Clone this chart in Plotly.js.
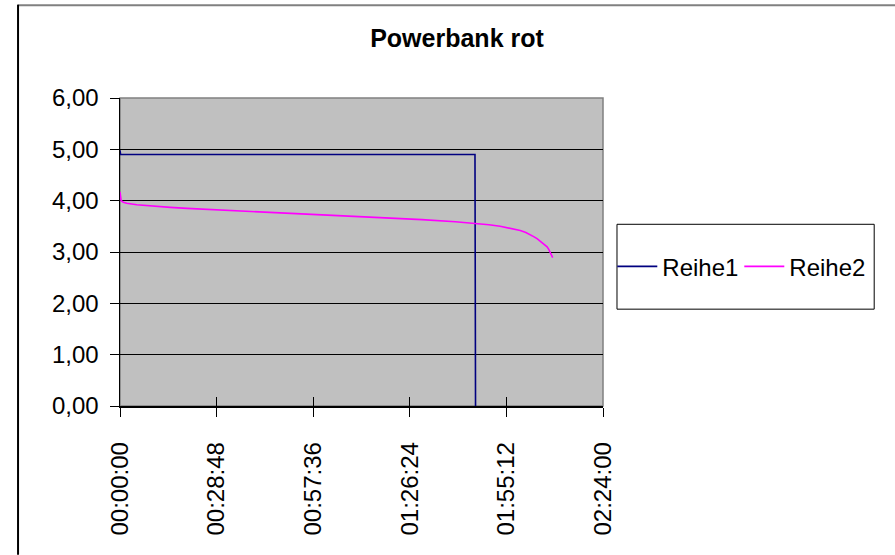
<!DOCTYPE html>
<html>
<head>
<meta charset="utf-8">
<script src="https://cdn.plot.ly/plotly-3.0.1.min.js"></script>
<style>html,body{margin:0;padding:0;background:#fff;}#chart{width:895px;height:555px;}</style>
</head>
<body>
<div id="chart"></div>
<script>
// Data (time as HH:MM:SS, voltage)
var seriesNames = ["Reihe1", "Reihe2"];
var reihe1Time = ["00:00:00", "00:00:10", "01:45:50", "01:46:00"];
var reihe1Value = [4.98, 4.90, 4.90, 0.00];
var reihe2Time = ["00:00:00", "00:00:20", "00:01:00", "00:02:00", "00:05:00", "00:10:00", "00:15:00", "00:20:00",
                  "00:30:00", "00:40:00", "00:50:00", "01:00:00", "01:10:00", "01:20:00", "01:30:00", "01:40:00",
                  "01:46:00", "01:50:00", "01:53:20", "01:56:40", "01:59:20", "02:01:00", "02:02:20", "02:03:20",
                  "02:04:20", "02:05:20", "02:06:20", "02:07:20", "02:07:50", "02:08:10", "02:08:40", "02:09:00"];
var reihe2Value = [4.17, 4.00, 3.97, 3.95, 3.92, 3.89, 3.87, 3.85,
                   3.82, 3.79, 3.76, 3.73, 3.70, 3.67, 3.63, 3.59,
                   3.56, 3.53, 3.50, 3.46, 3.42, 3.38, 3.34, 3.30,
                   3.26, 3.21, 3.16, 3.10, 3.05, 3.00, 2.94, 2.89];
var xTickLabels = ["00:00:00", "00:28:48", "00:57:36", "01:26:24", "01:55:12", "02:24:00"];
var yTickValues = [0, 1, 2, 3, 4, 5, 6];

function toDate(t) { return "1970-01-01 " + t; }
var xTickVals = xTickLabels.map(toDate);

var W = 895, H = 555, L = 119.5, R = 602.7, T = 97.5, B = 406;
var pw = R - L, ph = B - T;
function px(x) { return (x - L) / pw; }
function py(y) { return (B - y) / ph; }

var traces = [
  { x: reihe1Time.map(toDate), y: reihe1Value, name: seriesNames[0], type: "scatter", mode: "lines",
    line: { color: "#000080", width: 1.6 } },
  { x: reihe2Time.map(toDate), y: reihe2Value, name: seriesNames[1], type: "scatter", mode: "lines",
    line: { color: "#FF00FF", width: 1.6 } },
  { x: [], y: [], xaxis: "x2", showlegend: false, hoverinfo: "skip" }
];

var fnt = "Liberation Sans, Arial, sans-serif";
var layout = {
  width: W, height: H,
  margin: { l: L, r: W - R, t: T, b: H - B, pad: 0, autoexpand: false },
  paper_bgcolor: "#ffffff",
  plot_bgcolor: "#C0C0C0",
  separators: ",.",
  font: { family: fnt, size: 24, color: "#000" },
  title: { text: "<b>Powerbank rot</b>", font: { family: fnt, size: 25, color: "#000" },
           x: 457 / W, xref: "container", xanchor: "center", y: 1 - 38 / H, yref: "container", yanchor: "middle" },
  xaxis: {
    type: "date", range: [toDate("00:00:00"), toDate("02:24:00")],
    tickmode: "array", tickvals: xTickVals, ticktext: xTickLabels,
    tickangle: -90, ticks: "outside", ticklen: 9, tickwidth: 1, tickcolor: "#000",
    ticklabelstandoff: 16, automargin: false,
    showline: true, linecolor: "#000", linewidth: 1.5, showgrid: false, zeroline: false,
    tickfont: { family: fnt, size: 24, color: "#000" }
  },
  xaxis2: {
    type: "date", overlaying: "x", matches: "x", range: [toDate("00:00:00"), toDate("02:24:00")],
    tickmode: "array", tickvals: xTickVals, ticks: "inside", ticklen: 9, tickwidth: 1, tickcolor: "#000",
    showticklabels: false, showline: false, showgrid: false, zeroline: false, side: "bottom"
  },
  yaxis: {
    range: [0, 6], tickmode: "array", tickvals: yTickValues, tickformat: ".2f",
    ticks: "outside", ticklen: 9, tickwidth: 1, tickcolor: "#000", ticklabelstandoff: 6, automargin: false,
    showline: true, linecolor: "#000", linewidth: 1.5,
    showgrid: true, gridcolor: "#000", gridwidth: 1, zeroline: false,
    tickfont: { family: fnt, size: 24, color: "#000" }
  },
  showlegend: true,
  legend: {
    orientation: "h", x: px(612), xanchor: "left", y: py(266.5), yanchor: "middle",
    bgcolor: "rgba(0,0,0,0)", borderwidth: 0, font: { family: fnt, size: 24, color: "#000" },
    entrywidth: 72, entrywidthmode: "pixels", itemwidth: 40, tracegroupgap: 0
  },
  shapes: [
    { type: "rect", xref: "paper", yref: "paper", x0: 0, x1: 1, y0: 0, y1: 1, line: { color: "#808080", width: 1.5 }, layer: "below" },
    { type: "rect", xref: "paper", yref: "paper", x0: px(616.7), x1: px(874), y0: py(309), y1: py(224),
      line: { color: "#000", width: 1 }, fillcolor: "rgba(0,0,0,0)" },
    { type: "line", xref: "paper", yref: "paper", x0: px(17), x1: px(895), y0: py(4.5), y1: py(4.5), line: { color: "#808080", width: 2 } },
    { type: "line", xref: "paper", yref: "paper", x0: px(17.5), x1: px(17.5), y0: py(4), y1: py(555), line: { color: "#000", width: 2 } }
  ]
};

Plotly.newPlot("chart", traces, layout, { displayModeBar: false, staticPlot: true });
</script>
</body>
</html>
